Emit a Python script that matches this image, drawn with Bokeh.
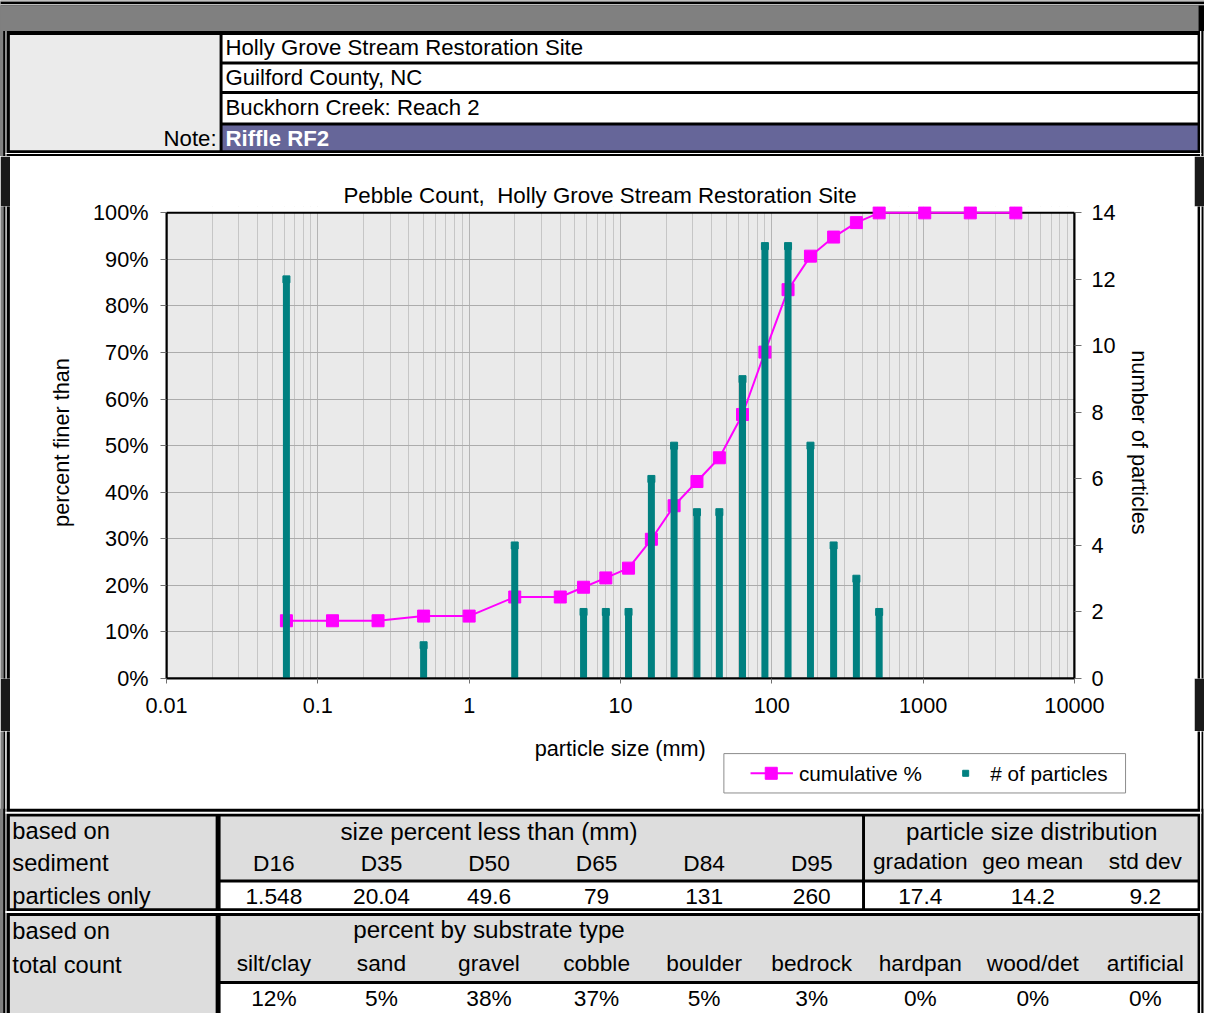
from bokeh.plotting import figure
from bokeh.models import (Range1d, LinearAxis, FixedTicker, Title, Grid)
from bokeh.layouts import column, row
from bokeh.embed import file_html
from bokeh.resources import INLINE
from bokeh.core.properties import value

FONT = "Liberation Sans"

# ---------------- data ----------------
particle_size_mm = [0.062, 0.125, 0.25, 0.5, 1, 2, 4, 5.7, 8, 11.3, 16, 22.6, 32, 45,
                    64, 90, 128, 180, 256, 362, 512, 1024, 2048, 4096]
cumulative_pct = [12.4, 12.4, 12.4, 13.4, 13.4, 17.5, 17.5, 19.6, 21.6, 23.7, 29.9, 37.1,
                  42.3, 47.4, 56.7, 70.1, 83.5, 90.7, 94.8, 97.9, 100, 100, 100, 100]
particle_count = [12, 0, 0, 1, 0, 4, 0, 2, 2, 2, 6, 7, 5, 5, 9, 13, 13, 7, 4, 3, 2, 0, 0, 0]

x_tick_values = [0.01, 0.1, 1, 10, 100, 1000, 10000]
x_tick_labels = ["0.01", "0.1", "1", "10", "100", "1000", "10000"]
pct_tick_values = [0, 10, 20, 30, 40, 50, 60, 70, 80, 90, 100]
pct_tick_labels = ["0%", "10%", "20%", "30%", "40%", "50%", "60%", "70%", "80%", "90%", "100%"]
count_tick_values = [0, 2, 4, 6, 8, 10, 12, 14]

header_lines = ["Holly Grove Stream Restoration Site", "Guilford County, NC", "Buckhorn Creek: Reach 2"]
note_label = "Note:"
note_text = "Riffle RF2"

chart_title = "Pebble Count,\u00a0 Holly Grove Stream Restoration Site"
x_axis_title = "particle size (mm)"
legend_labels = ["cumulative %", "# of particles"]

size_headers = ["D16", "D35", "D50", "D65", "D84", "D95"]
size_values = ["1.548", "20.04", "49.6", "79", "131", "260"]
dist_headers = ["gradation", "geo mean", "std dev"]
dist_values = ["17.4", "14.2", "9.2"]
substrate_types = ["silt/clay", "sand", "gravel", "cobble", "boulder", "bedrock",
                   "hardpan", "wood/det", "artificial"]
substrate_pct = ["12%", "5%", "38%", "37%", "5%", "3%", "0%", "0%", "0%"]

CUM_COLOR = "#FF00FF"
BAR_COLOR = "#008080"

# ---------------- geometry (sheet drawn in 1220x1029 units, shown in 1204x1013 px) ----------------
W, H = 1204, 1013
SX, SY = W / 1220.0, H / 1029.0
HDR_H, CH_H = 156, 575
LOW_H = H - HDR_H - CH_H
STRIP_W = 10
CH_W = W - 2 * STRIP_W


def fs(px):
    return "%.1fpx" % (px * SX)


def canvas(w, h, x0, x1, y_top, y_bot, bg="black", border=None):
    f = figure(width=w, height=h, x_range=Range1d(x0, x1), y_range=Range1d(y_bot, y_top),
               output_backend="svg", toolbar_location=None, min_border=0,
               min_border_left=0, min_border_right=0, min_border_top=0, min_border_bottom=0,
               x_axis_location=None, y_axis_location=None, title=None,
               background_fill_color=bg, border_fill_color=border or bg,
               outline_line_color=None)
    for r in list(f.center):
        if isinstance(r, Grid):
            r.visible = False
            r.grid_line_color = None
    return f


def box(f, l, r, t, b, color, line=None):
    f.quad(left=[l], right=[r], top=[t], bottom=[b], fill_color=color,
           line_color=line, line_width=1)


def txt(f, xs, ys, texts, align="left", size=22.0, color="black", style="normal"):
    f.text(x=xs, y=ys, text=texts, text_font=value(FONT), text_font_size=fs(size),
           text_align=align, text_baseline="middle", text_color=color, text_font_style=style)


def side_borders(f, y0, y1):
    box(f, -2, 3, y0, y1, "#808080")
    box(f, 3, 5, y0, y1, "black")
    box(f, 5, 6.3, y0, y1, "white")
    box(f, 6.3, 9.5, y0, y1, "black")
    box(f, 1213, 1215.5, y0, y1, "black")
    box(f, 1215.5, 1217, y0, y1, "white")
    box(f, 1217, 1219, y0, y1, "black")
    box(f, 1219, 1222, y0, y1, "white")

# ---------------- header ----------------
hdr_bottom = HDR_H / SY
hdr = canvas(W, HDR_H, 0, 1220, 0, hdr_bottom)
box(hdr, -2, 1222, -2, 1, "white")
box(hdr, -2, 1222, 3.7, 4.7, "white")
side_borders(hdr, 31, hdr_bottom + 2)
box(hdr, -2, 1214, 4.7, 31, "#808080")
box(hdr, 9.5, 222, 35, 152, "#EBEBEB")
box(hdr, 225, 1213, 35, 62, "white")
box(hdr, 225, 1213, 65, 92, "white")
box(hdr, 225, 1213, 95, 124, "white")
box(hdr, 225, 1213, 127, 152, "#666699")
box(hdr, 5, 1217, 155, 156, "white")
txt(hdr, [228, 228, 228], [48, 78, 109], header_lines, size=22.5)
txt(hdr, [219], [140], [note_label], align="right", size=22.5)
txt(hdr, [228], [140], [note_text], color="white", style="bold", size=22.5)

# ---------------- chart ----------------
BOX_TOP, BOX_BOT, BOX_L, BOX_R = 216, 689, 168, 1088          # plot box in sheet units
box_h_px = (BOX_BOT - BOX_TOP) * SY
frame_h = 472
frame_bottom_px = round(BOX_BOT * SY) - HDR_H                 # inside chart figure
mb_top = frame_bottom_px - frame_h
mb_bottom = CH_H - frame_bottom_px
mb_left = round((BOX_L - STRIP_W / SX) * SX)
frame_w = round((BOX_R - BOX_L) * SX)
mb_right = CH_W - mb_left - frame_w
y_end = 100.0 * frame_h / box_h_px

p = figure(x_axis_type="log", x_range=Range1d(0.01, 10000), y_range=Range1d(0, y_end),
           frame_width=frame_w, frame_height=frame_h,
           min_border_left=mb_left, min_border_right=mb_right,
           min_border_top=mb_top, min_border_bottom=mb_bottom,
           output_backend="svg", toolbar_location=None,
           background_fill_color="white", border_fill_color="white",
           outline_line_color=None, title=None)
p.title = Title(text=chart_title, align="left", offset=round((347 - BOX_L) * SX),
                text_font=FONT, text_font_size=fs(22.6), text_font_style="normal",
                text_color="black", standoff=-3)

p.extra_y_ranges = {"count": Range1d(0, 14 * y_end / 100.0)}

left_axis = p.left[0]
bottom_axis = p.below[0]

minor_x = [m * 10.0 ** e for e in range(-2, 4) for m in range(2, 10)]
xt = FixedTicker(ticks=x_tick_values, minor_ticks=minor_x)
bottom_axis.ticker = xt
p.xgrid.ticker = xt
bottom_axis.major_label_overrides = {v: l for v, l in zip(x_tick_values, x_tick_labels)}

yt = FixedTicker(ticks=pct_tick_values)
left_axis.ticker = yt
p.ygrid.ticker = yt
left_axis.major_label_overrides = {v: l for v, l in zip(pct_tick_values, pct_tick_labels)}
left_axis.bounds = (0, 100)

right_axis = LinearAxis(y_range_name="count", ticker=FixedTicker(ticks=count_tick_values),
                        bounds=(0, 14))
p.add_layout(right_axis, "right")

for ax in [bottom_axis, left_axis, right_axis]:
    ax.axis_line_color = "black"
    ax.axis_line_width = 2
    ax.major_tick_line_color = "#707070"
    ax.major_tick_in = 0
    ax.minor_tick_line_color = None
    ax.major_label_text_font = FONT
    ax.major_label_text_font_size = fs(22)
    ax.major_label_text_color = "black"
    ax.axis_label_text_font = FONT
    ax.axis_label_text_font_size = fs(22)
    ax.axis_label_text_font_style = "normal"
    ax.axis_label_text_color = "black"

bottom_axis.major_tick_out = 5
bottom_axis.major_label_standoff = 14
left_axis.axis_label = "percent finer than"
left_axis.major_tick_out = 6
left_axis.major_label_standoff = 12
left_axis.axis_label_standoff = 16
right_axis.axis_label = "number of particles"
right_axis.major_tick_out = 7
right_axis.major_label_standoff = 10
right_axis.axis_label_standoff = 8

p.xgrid.grid_line_color = "#B4B4B4"
p.xgrid.minor_grid_line_color = "#C6C6C6"
p.ygrid.grid_line_color = "#ACACAC"

# plot-area background, cover above 100 %, and plot box border
p.quad(left=[0.01], right=[10000], top=[100], bottom=[0], fill_color="#EAEAEA",
       line_color=None, level="image")
p.quad(left=[0.01], right=[10000], top=[y_end + 1], bottom=[100], fill_color="white",
       line_color=None)
p.quad(left=[0.01], right=[10000], top=[100], bottom=[0], fill_color=None,
       line_color="black", line_width=2)

p.line(particle_size_mm, cumulative_pct, line_color=CUM_COLOR, line_width=2)
p.scatter(particle_size_mm, cumulative_pct, marker="square", size=12,
          fill_color=CUM_COLOR, line_color=CUM_COLOR)

bx = [s for s, c in zip(particle_size_mm, particle_count) if c > 0]
bc = [c for c in particle_count if c > 0]
p.segment(x0=bx, y0=[0] * len(bx), x1=bx, y1=bc, y_range_name="count",
          line_color=BAR_COLOR, line_width=7)
p.scatter(bx, bc, y_range_name="count", marker="square", size=7,
          fill_color=BAR_COLOR, line_color=BAR_COLOR)

# thin side strips (their frames get aligned with the chart frame, so the
# parts above/below are filled with a dark border colour)
left_strip = canvas(STRIP_W, CH_H, 0, STRIP_W / SX, 0, 1, bg="white", border="#1a1a1a")
box(left_strip, -2, 3, -1, 2, "#808080")
box(left_strip, 3, 5, -1, 2, "black")
box(left_strip, 6.3, 9.5, -1, 2, "black")
right_strip = canvas(STRIP_W, CH_H, 1220 - STRIP_W / SX, 1220, 0, 1, bg="white", border="#1a1a1a")
box(right_strip, 1213, 1215.5, -1, 2, "black")
box(right_strip, 1217, 1219, -1, 2, "black")
chart_row = row(left_strip, p, right_strip, spacing=0)

# ---------------- lower part: axis title, legend, tables ----------------
low_top = (HDR_H + CH_H) / SY
tb = canvas(W, LOW_H, 0, 1220, low_top, 1029, bg="white")
G = "#DDDDDD"
box(tb, -2, 1222, 821, 1031, "black")
side_borders(tb, low_top - 2, 1031)
txt(tb, [628], [760], [x_axis_title], align="center", size=22)

# legend
box(tb, 733, 1140, 765, 805, "white", line="#8C8C8C")
tb.segment(x0=[760], y0=[785], x1=[803], y1=[785], line_color=CUM_COLOR, line_width=2)
tb.scatter([781], [785], marker="square", size=12, fill_color=CUM_COLOR, line_color=CUM_COLOR)
tb.scatter([978], [785], marker="square", size=6, fill_color=BAR_COLOR, line_color=BAR_COLOR)
txt(tb, [809, 1003], [785, 785], legend_labels, size=21)

box(tb, 5, 1217, 824, 826, "white")
box(tb, 9.5, 218, 829, 922, G)
box(tb, 223, 873, 829, 893, G)
box(tb, 876, 1213, 829, 893, G)
box(tb, 223, 873, 896, 922, "white")
box(tb, 876, 1213, 896, 922, "white")
box(tb, 5, 1217, 925, 927, "white")
box(tb, 9.5, 218, 930, 1031, G)
box(tb, 223, 1213, 930, 996, G)
box(tb, 223, 1213, 999, 1031, "white")

col_x = [277, 386, 495, 604, 713, 822, 932, 1046, 1160]
txt(tb, [12, 12, 12], [844, 876, 910], ["based on", "sediment", "particles only"], size=24)
txt(tb, [495], [844], ["size percent less than (mm)"], align="center", size=24.5)
txt(tb, col_x[:6], [876] * 6, size_headers, align="center", size=23)
txt(tb, col_x[:6], [910] * 6, size_values, align="center", size=23)
txt(tb, [1045], [844], ["particle size distribution"], align="center", size=24.5)
txt(tb, col_x[6:], [874] * 3, dist_headers, align="center", size=23)
txt(tb, col_x[6:], [910] * 3, dist_values, align="center", size=23)
txt(tb, [12, 12], [945, 980], ["based on", "total count"], size=24)
txt(tb, [495], [944], ["percent by substrate type"], align="center", size=24.5)
txt(tb, col_x, [978] * 9, substrate_types, align="center", size=23)
txt(tb, col_x, [1013] * 9, substrate_pct, align="center", size=23)

layout = column(hdr, chart_row, tb, spacing=0)

open("out.html", "w").write(file_html(layout, INLINE))
